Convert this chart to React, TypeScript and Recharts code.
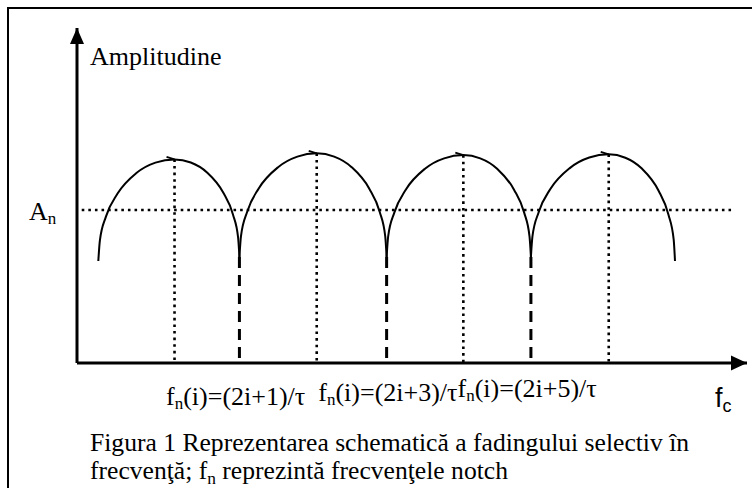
import React from "react";
import {
  LineChart,
  Line,
  XAxis,
  YAxis,
  ReferenceLine,
  ReferenceDot,
  Label,
} from "recharts";

// frequency axis in units of 1/tau (offset 2i), amplitude in units of An
const F_DOMAIN = [-1.24, 8];
const A_DOMAIN = [0, 2.19];

const NOTCH_F = [1.0, 3.03, 5.02];
const NOTCH_A = 0.693;
const PEAK_F = [0.105, 2.066, 4.088, 6.093];
const PEAK_A = [1.331, 1.371, 1.359, 1.364];
const AN_LEVEL = 1;
const AN_SPAN = [-1.175, 7.78];

const TICK_LABELS = ["(2i+1)/τ", "(2i+3)/τ", "(2i+5)/τ"];
const TICK_GAPS = ["  ", ""];

// one arch per lobe
const arch1 = [
  [-0.946, 0.667], [-0.925, 0.799], [-0.841, 0.957], [-0.683, 1.106], [-0.421, 1.242],
  [-0.158, 1.31], [0.105, 1.331], [0.329, 1.311], [0.553, 1.246], [0.776, 1.115],
  [0.911, 0.971], [0.982, 0.82], [1.0, 0.693],
];
const arch2 = [
  [1.0, 0.693], [1.021, 0.828], [1.107, 0.989], [1.266, 1.141], [1.533, 1.28],
  [1.799, 1.349], [2.066, 1.371], [2.307, 1.349], [2.548, 1.28], [2.789, 1.141],
  [2.934, 0.989], [3.011, 0.828], [3.03, 0.693],
];
const arch3 = [
  [3.03, 0.693], [3.051, 0.826], [3.136, 0.983], [3.294, 1.133], [3.559, 1.27],
  [3.823, 1.338], [4.088, 1.359], [4.321, 1.338], [4.554, 1.27], [4.787, 1.133],
  [4.927, 0.983], [5.001, 0.826], [5.02, 0.693],
];
const arch4 = [
  [5.02, 0.693], [5.041, 0.827], [5.127, 0.986], [5.288, 1.137], [5.556, 1.274],
  [5.825, 1.343], [6.093, 1.364], [6.322, 1.342], [6.55, 1.271], [6.779, 1.128],
  [6.916, 0.971], [6.989, 0.806], [7.007, 0.667],
];

const ARCHES = [arch1, arch2, arch3, arch4].map((a) => a.map(([x, y]) => ({ x, y })));

const SERIF = "'Liberation Serif', 'Times New Roman', serif";
const SANS = "'Liberation Sans', Arial, sans-serif";

const dotted = { stroke: "#000", strokeWidth: 2.6, strokeDasharray: "2.6 4" };
const dashed = { stroke: "#000", strokeWidth: 3, strokeDasharray: "11 7" };

function ArrowUp(props: any) {
  const { cx, cy } = props;
  return <path d={`M${cx},${cy} L${cx - 7},${cy + 16} L${cx + 7},${cy + 16} Z`} fill="#000" />;
}

function ArrowRight(props: any) {
  const { cx, cy } = props;
  return <path d={`M${cx},${cy} L${cx - 16},${cy - 7.5} L${cx - 16},${cy + 7.5} Z`} fill="#000" />;
}

// little overshoot stroke left at the top of each lobe
function PeakHook(props: any) {
  const { cx, cy } = props;
  return <path d={`M${cx - 8},${cy - 2.5} L${cx},${cy}`} stroke="#000" strokeWidth={1.8} fill="none" />;
}

function AnTick(props: any) {
  const { y } = props;
  return (
    <text x={29} y={y + 10} fontFamily={SERIF} fontSize={26} fill="#000">
      A<tspan fontSize={17} dy={4}>n</tspan>
    </text>
  );
}

function YTitle(props: any) {
  const vb = props.viewBox;
  return (
    <text x={vb.x + vb.width + 13} y={vb.y + 37} fontFamily={SERIF} fontSize={26} fill="#000">
      Amplitudine
    </text>
  );
}

function XLabels(props: any) {
  const vb = props.viewBox;
  return (
    <g>
      <text
        x={vb.x + 89}
        y={vb.y + 42}
        fontFamily={SERIF}
        fontSize={26}
        fill="#000"
        style={{ whiteSpace: "pre" }}
      >
        {TICK_LABELS.map((t, i) => (
          <React.Fragment key={i}>
            <tspan dy={i === 0 ? 0 : -4}>f</tspan>
            <tspan fontSize={17} dy={4}>n</tspan>
            <tspan dy={-4}>{"(i)=" + t + (TICK_GAPS[i] ?? "")}</tspan>
            <tspan dy={4}>{""}</tspan>
          </React.Fragment>
        ))}
      </text>
      <text x={vb.x + vb.width - 32} y={vb.y + 44} fontFamily={SANS} fontSize={27} fill="#000">
        f<tspan fontSize={18} dy={5}>c</tspan>
      </text>
    </g>
  );
}

export default function App() {
  return (
    <div style={{ position: "relative", width: 752, height: 488, overflow: "hidden", background: "#fff" }}>
      <style>{`body{margin:0}`}</style>
      <div
        style={{
          position: "absolute",
          left: 7,
          top: 7,
          width: 800,
          height: 600,
          border: "2px solid #000",
          boxSizing: "border-box",
        }}
      />
      <div style={{ position: "absolute", left: 0, top: 0 }}>
        <LineChart width={752} height={488} margin={{ top: 28, right: 5, bottom: 85, left: 0 }}>
          <XAxis
            dataKey="x"
            type="number"
            domain={F_DOMAIN}
            allowDataOverflow
            height={40}
            tick={false}
            tickLine={false}
            axisLine={{ stroke: "#000", strokeWidth: 3 }}
          >
            <Label content={XLabels} />
          </XAxis>
          <YAxis
            type="number"
            domain={A_DOMAIN}
            allowDataOverflow
            width={77}
            ticks={[AN_LEVEL]}
            tick={AnTick}
            tickLine={false}
            axisLine={{ stroke: "#000", strokeWidth: 3 }}
          >
            <Label content={YTitle} />
          </YAxis>

          <ReferenceLine
            segment={[{ x: AN_SPAN[0], y: AN_LEVEL }, { x: AN_SPAN[1], y: AN_LEVEL }]}
            {...dotted}
          />
          {PEAK_F.map((f, i) => (
            <ReferenceLine key={"p" + i} segment={[{ x: f, y: PEAK_A[i] }, { x: f, y: 0 }]} {...dotted} />
          ))}
          {NOTCH_F.map((f, i) => (
            <ReferenceLine key={"n" + i} segment={[{ x: f, y: NOTCH_A }, { x: f, y: 0 }]} {...dashed} />
          ))}

          {ARCHES.map((d, i) => (
            <Line
              key={i}
              data={d}
              dataKey="y"
              type="monotone"
              dot={false}
              activeDot={false}
              stroke="#000"
              strokeWidth={2}
              isAnimationActive={false}
            />
          ))}
          {PEAK_F.map((f, i) => (
            <ReferenceDot key={"h" + i} x={f} y={PEAK_A[i]} ifOverflow="visible" shape={PeakHook} />
          ))}

          <ReferenceDot x={F_DOMAIN[0]} y={A_DOMAIN[1]} ifOverflow="visible" shape={ArrowUp} />
          <ReferenceDot x={F_DOMAIN[1]} y={0} ifOverflow="visible" shape={ArrowRight} />
        </LineChart>
      </div>
      <div
        style={{
          position: "absolute",
          left: 90,
          top: 429,
          fontFamily: SERIF,
          fontSize: 25.6,
          lineHeight: "28px",
          color: "#000",
          whiteSpace: "nowrap",
        }}
      >
        <div>Figura 1 Reprezentarea schematică a fadingului selectiv în</div>
        <div>
          frecvenţă; f<span style={{ fontSize: "0.68em", position: "relative", top: "0.3em" }}>n</span> reprezintă
          frecvenţele notch
        </div>
      </div>
    </div>
  );
}
